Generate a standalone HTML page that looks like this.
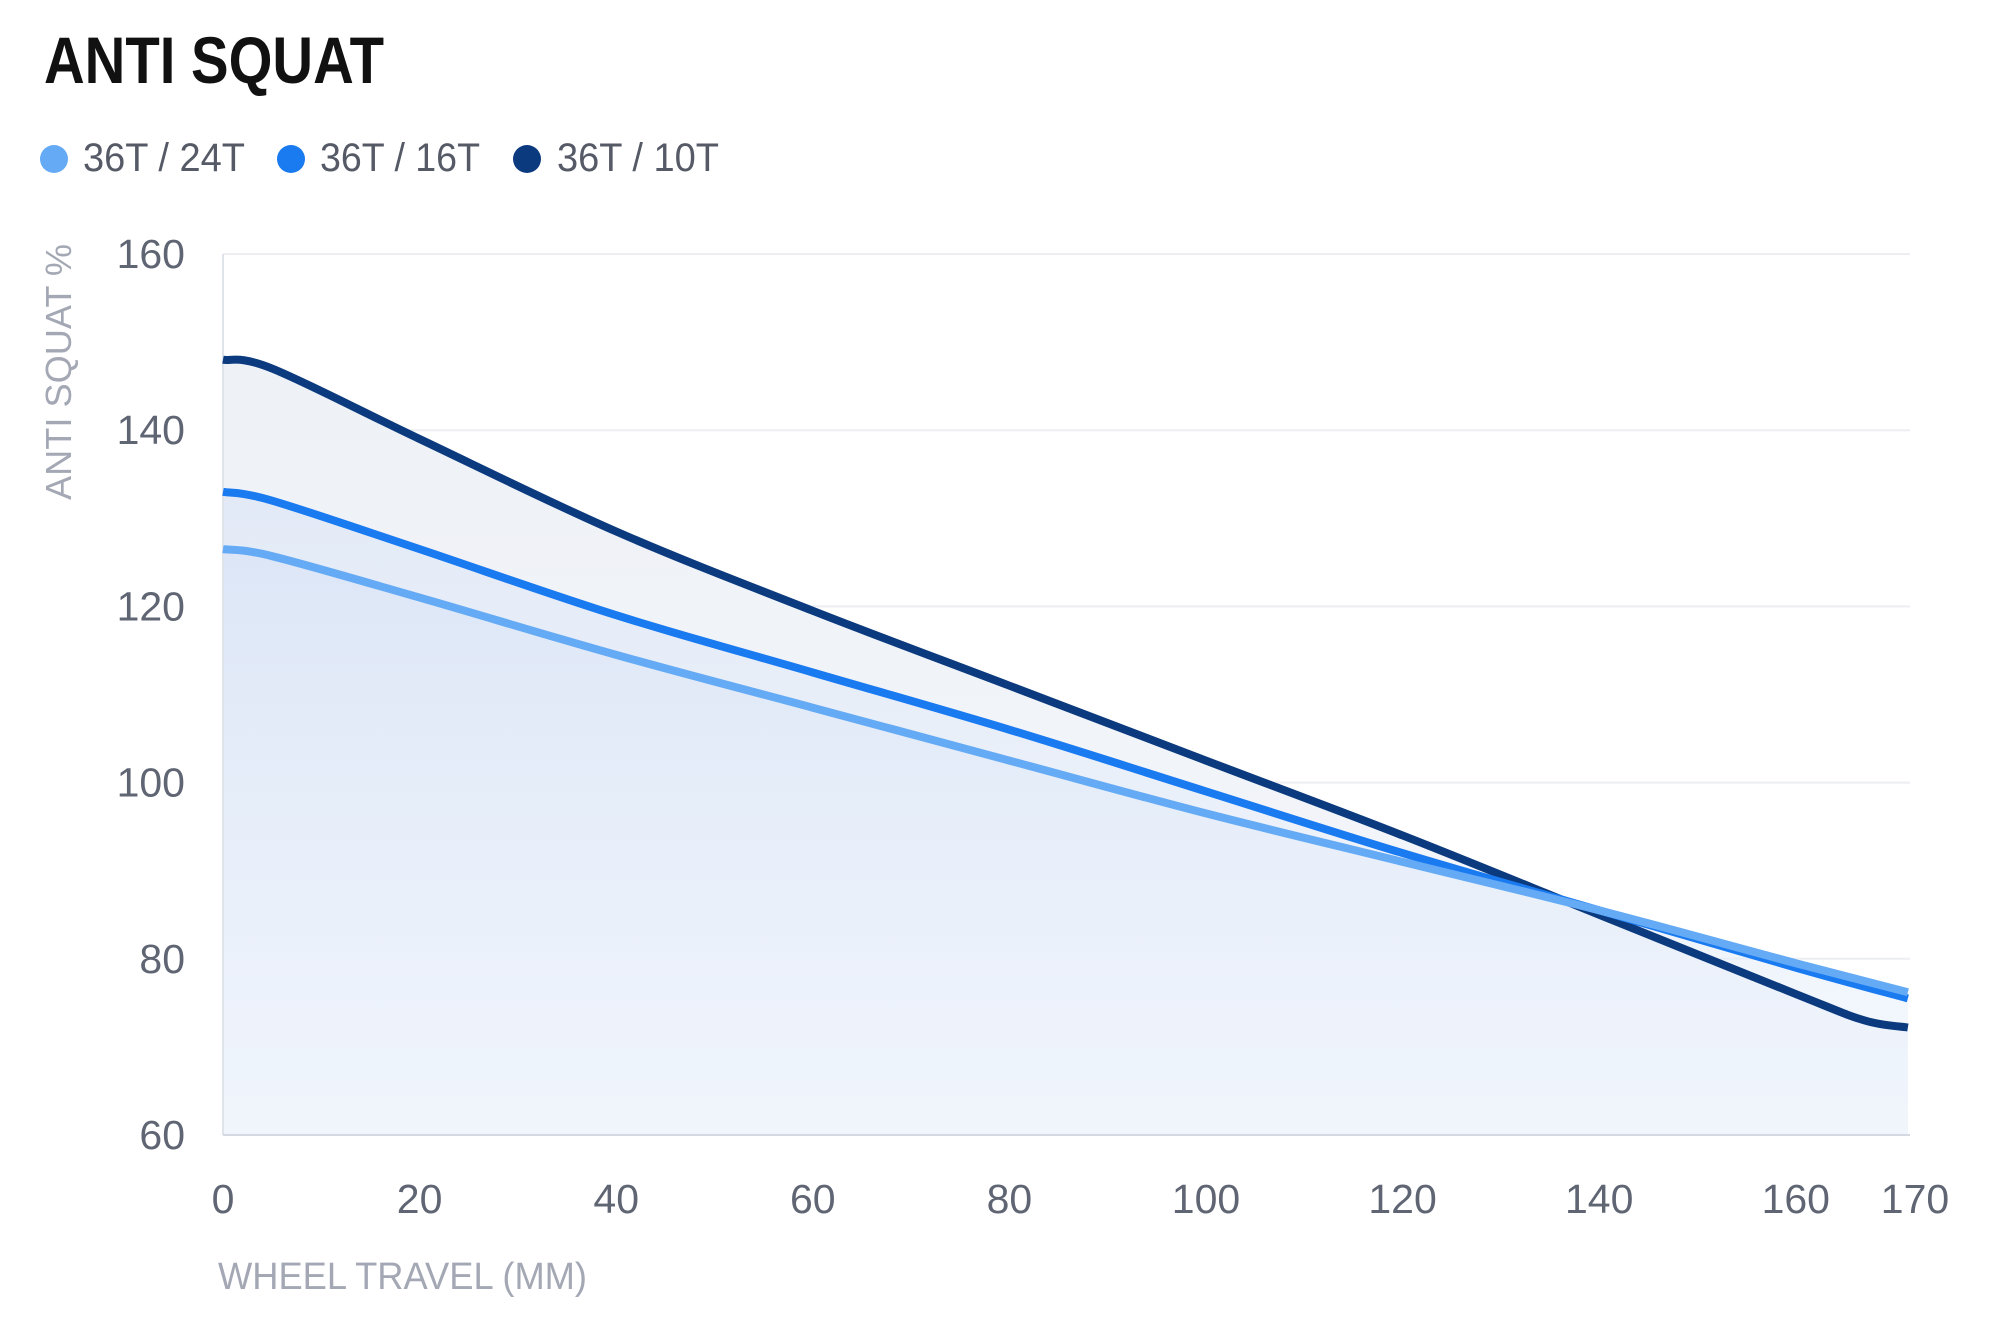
<!DOCTYPE html>
<html><head><meta charset="utf-8"><style>
html,body{margin:0;padding:0;background:#fff;}
svg{display:block;}
text{font-family:"Liberation Sans",sans-serif;}
</style></head><body>
<svg id="s" width="2000" height="1333" viewBox="0 0 2000 1333" xmlns="http://www.w3.org/2000/svg">
<defs>
<linearGradient id="g1" x1="0" y1="0" x2="0" y2="1">
<stop offset="0" stop-color="#eef1f6"/><stop offset="1" stop-color="#f4f7fc"/></linearGradient>
<linearGradient id="g2" x1="0" y1="0" x2="0" y2="1">
<stop offset="0" stop-color="#d3e0f6" stop-opacity="0.8"/><stop offset="1" stop-color="#eef4fd" stop-opacity="0.6"/></linearGradient>
</defs>
<text x="44" y="83" font-size="66" font-weight="bold" fill="#111" textLength="340" lengthAdjust="spacingAndGlyphs">ANTI SQUAT</text>
<circle cx="54" cy="159" r="14" fill="#64aaf5"/>
<text x="83" y="171" font-size="40" fill="#555a66" textLength="162" lengthAdjust="spacingAndGlyphs">36T / 24T</text>
<circle cx="291" cy="159" r="14" fill="#1a7af0"/>
<text x="320" y="171" font-size="40" fill="#555a66" textLength="160" lengthAdjust="spacingAndGlyphs">36T / 16T</text>
<circle cx="527" cy="159" r="14" fill="#0b3a7e"/>
<text x="557" y="171" font-size="40" fill="#555a66" textLength="162" lengthAdjust="spacingAndGlyphs">36T / 10T</text>
<g id="grid"></g>
<g id="areas"></g>
<line x1="223" y1="254" x2="223" y2="1135" stroke="#dfe3ea" stroke-width="2"/>
<line x1="223" y1="1135" x2="1910" y2="1135" stroke="#d5d9e2" stroke-width="2"/>
<g id="lines"></g>
<g id="labels" font-size="41" fill="#5f6573"></g>
<text x="218" y="1289" font-size="38" fill="#a3a8b4" textLength="369" lengthAdjust="spacingAndGlyphs">WHEEL TRAVEL (MM)</text>
<text transform="translate(71,372) rotate(-90)" text-anchor="middle" font-size="36" fill="#a3a8b4" textLength="256" lengthAdjust="spacingAndGlyphs">ANTI SQUAT %</text>
</svg>
<script>
var NS="http://www.w3.org/2000/svg";
function X(v){return 223+v*9.83;}
function Y(v){return 1135-(v-60)*8.81;}
function el(t,a,p,txt){var e=document.createElementNS(NS,t);for(var k in a)e.setAttribute(k,a[k]);if(txt!==undefined)e.textContent=txt;document.getElementById(p).appendChild(e);return e;}
for(var v=60;v<=160;v+=20){
 if(v>60)el("line",{x1:223,x2:1910,y1:Y(v),y2:Y(v),stroke:"#eceef2","stroke-width":2},"grid");
 el("text",{x:185,y:Y(v)+14,"text-anchor":"end"},"labels",String(v));
}
[0,20,40,60,80,100,120,140,160].forEach(function(v){
 el("text",{x:X(v),y:1213,"text-anchor":"middle"},"labels",String(v));
});
el("text",{x:1915,y:1213,"text-anchor":"middle"},"labels","170");
var E=171.4;
var S=[
 {c:"#0b3a7e",d:[[0,148],[5,147],[20,139],[40,128.5],[60,119.5],[80,111],[100,102.5],[120,94],[140,85],[160,76],[167,73],[E,72.2]]},
 {c:"#1a7af0",d:[[0,133],[5,132],[20,126.5],[40,119],[60,112.5],[80,106],[100,99],[120,92],[140,85.5],[160,79],[E,75.5]]},
 {c:"#64aaf5",d:[[0,126.5],[5,125.7],[20,121],[40,114.5],[60,108.5],[80,102.5],[100,96.5],[120,91],[140,85.5],[160,79.5],[E,76.2]]}
];
function path(d){
 var p=d.map(function(q){return [X(q[0]),Y(q[1])];});
 var s="M"+p[0][0]+","+p[0][1];
 for(var i=0;i<p.length-1;i++){
  var p0=p[i-1]||p[i],p1=p[i],p2=p[i+1],p3=p[i+2]||p2;
  var c1x=p1[0]+(p2[0]-p0[0])/6,c1y=p1[1]+(p2[1]-p0[1])/6;
  var c2x=p2[0]-(p3[0]-p1[0])/6,c2y=p2[1]-(p3[1]-p1[1])/6;
  s+=" C"+c1x+","+c1y+" "+c2x+","+c2y+" "+p2[0]+","+p2[1];
 }
 return s;
}
var fills=["url(#g1)","url(#g2)","url(#g2)"];
S.forEach(function(s,i){
 el("path",{d:path(s.d)+" L"+X(E)+",1135 L223,1135 Z",fill:fills[i],"fill-opacity":i==0?1:0.55},"areas");
});
S.forEach(function(s){
 el("path",{d:path(s.d),fill:"none",stroke:s.c,"stroke-width":8,"stroke-linejoin":"round","stroke-linecap":"butt"},"lines");
});
</script>
</body></html>
